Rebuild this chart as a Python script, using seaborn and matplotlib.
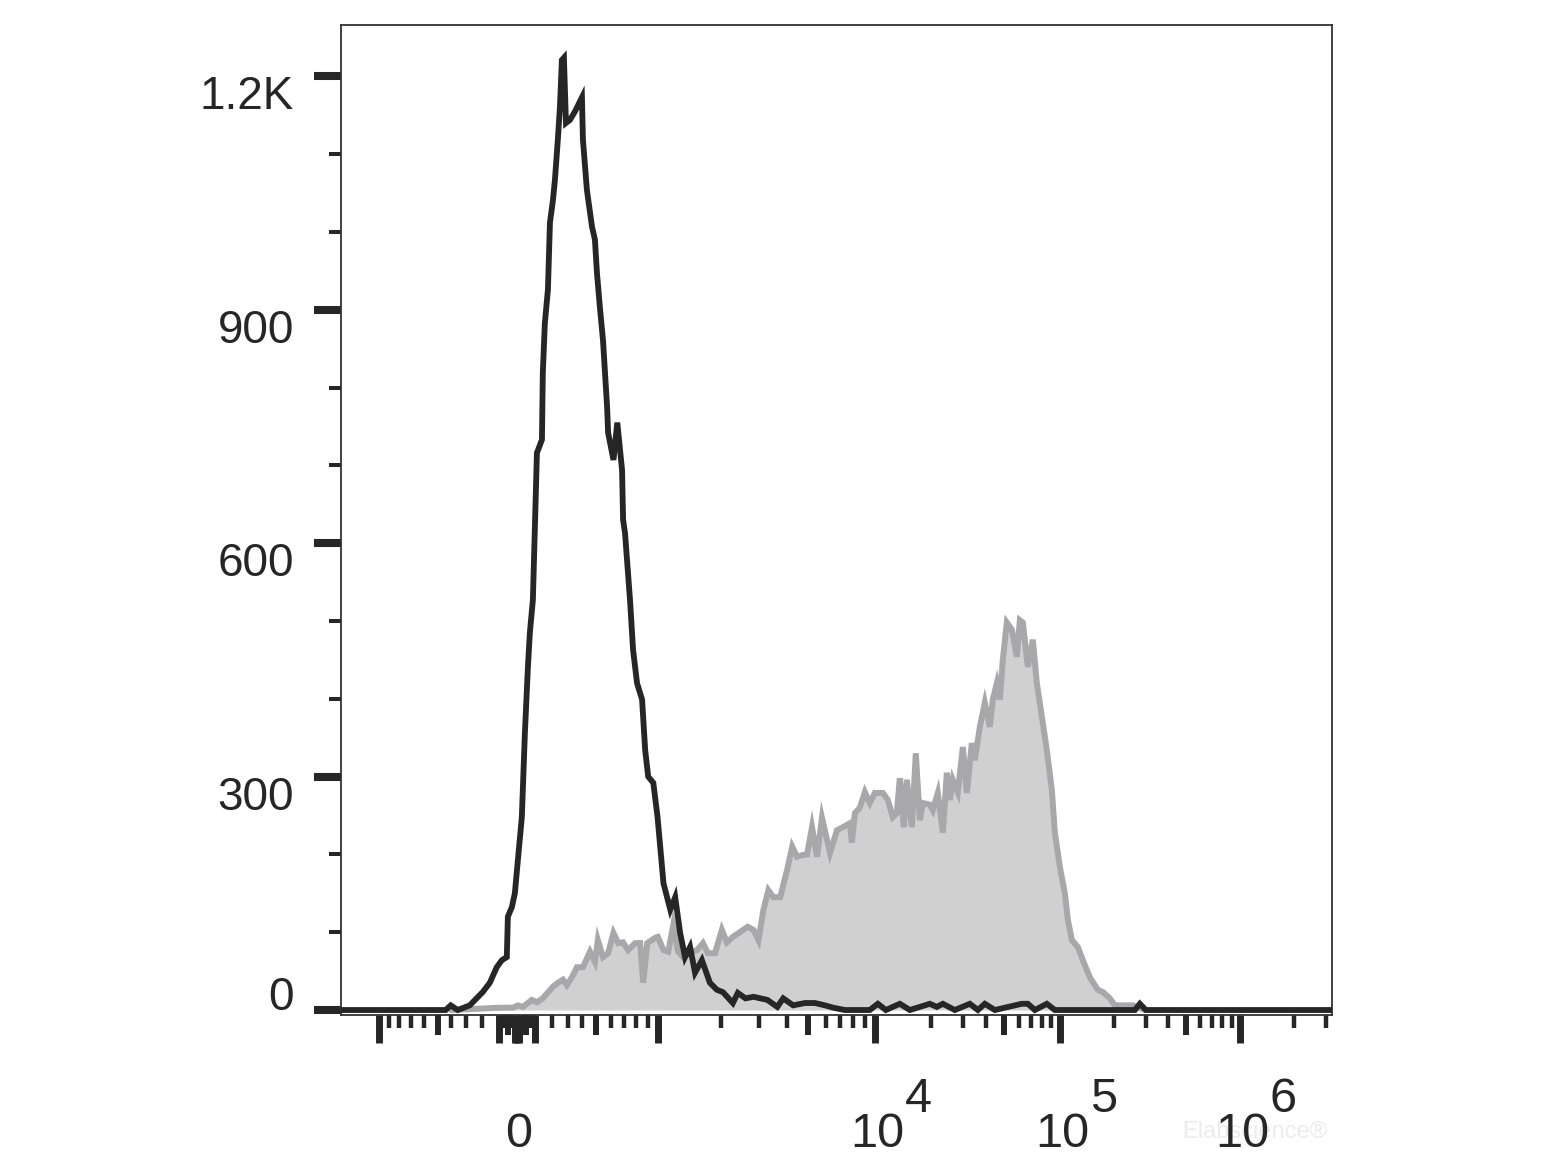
import numpy as np
import pandas as pd
import matplotlib
matplotlib.use("Agg")
import matplotlib.pyplot as plt
import seaborn as sns
from matplotlib.ticker import NullLocator

# ---------------- data (fluorescence intensity, event count) ----------------
BLACK_X = [-1480, -485, -440, -403, -354, -314, -275, -237, -195, -153,
           -113, -84, -56, -50, -28, -11, 6, 28, 45, 62,
           73, 90, 101, 113, 142, 147, 159, 177, 189, 207,
           219, 237, 250, 262, 275, 288, 314, 348, 396, 403,
           432, 470, 493, 507, 526, 547, 575, 582, 620, 648,
           684, 692, 707, 747, 772, 806, 850, 878, 906, 955,
           997, 1031, 1067, 1153, 1218, 1287, 1359, 1436, 1516, 1634,
           1781, 1919, 2046, 2275, 2398, 2600, 2830, 3040, 3270, 3630,
           3860, 4280, 4850, 5370, 5960, 6480, 7330, 9490, 10380, 11470,
           13650, 15460, 19830, 21630, 23320, 27060, 32620, 36050, 39320, 44530,
           62300, 67140, 73270, 85050, 93970, 261100, 278300, 300400, 3300000]
BLACK_COUNT = [0, 0, 0, 6, 0, 3, 6, 14, 23, 35,
               55, 64, 68, 120, 132, 150, 193, 248, 356, 441,
               485, 527, 617, 716, 733, 819, 883, 926, 1012, 1041,
               1067, 1119, 1161, 1221, 1224, 1140, 1144, 1155, 1173, 1119,
               1054, 1007, 990, 948, 904, 861, 775, 742, 707, 755,
               694, 630, 613, 527, 463, 420, 399, 334, 300, 292,
               248, 206, 163, 129, 145, 99, 68, 81, 48, 64,
               35, 26, 23, 9, 22, 15, 17, 15, 13, 4,
               15, 6, 9, 9, 6, 3, 0, 0, 8, 0,
               8, 0, 8, 4, 8, 0, 8, 0, 8, 0,
               8, 8, 0, 8, 0, 0, 8, 0, 0]

GRAY_X = [-400, -96, -22, 6, 34, 84, 113, 147, 207, 237,
          269, 294, 327, 361, 403, 455, 493, 513, 547, 582,
          620, 655, 692, 731, 789, 833, 860, 897, 976, 1000,
          1067, 1127, 1191, 1259, 1330, 1468, 1549, 1653, 1744, 1880,
          2024, 2136, 2275, 2450, 2660, 2830, 2980, 3140, 3305, 3480,
          3740, 4020, 4240, 4460, 4700, 4950, 5210, 5490, 5780, 6280,
          6750, 7180, 7720, 7880, 8130, 8560, 9020, 9490, 10000, 11050,
          11760, 12510, 13150, 13650, 14350, 14890, 15850, 16660, 17510, 18180,
          19830, 20580, 21900, 23320, 24500, 25430, 26400, 28100, 29910, 31430,
          33440, 34710, 36950, 39320, 41840, 43430, 45650, 47400, 49180, 51700,
          55020, 58560, 60780, 63100, 67140, 71460, 75110, 79940, 85050, 90530,
          93970, 100000, 106600, 110800, 116600, 125900, 134200, 146800, 162600, 173400,
          189600, 202100, 215400, 254500, 267800, 296700]
GRAY_COUNT = [0, 3, 3, 6, 4, 13, 10, 15, 30, 35,
              39, 32, 42, 55, 55, 75, 62, 90, 68, 73,
              99, 86, 87, 77, 86, 86, 35, 86, 93, 94,
              77, 75, 109, 75, 68, 75, 77, 86, 73, 73,
              103, 87, 94, 100, 107, 103, 90, 129, 154, 145,
              145, 180, 210, 197, 199, 200, 235, 197, 247, 202,
              231, 235, 240, 215, 253, 260, 280, 266, 279, 279,
              270, 248, 253, 298, 235, 296, 235, 330, 244, 266,
              264, 257, 279, 228, 305, 270, 296, 280, 338, 279,
              343, 321, 364, 395, 364, 399, 420, 399, 450, 498,
              489, 454, 501, 498, 441, 476, 420, 377, 334, 283,
              228, 184, 150, 116, 90, 81, 64, 42, 26, 23,
              15, 6, 6, 6, 4, 0]

Y_MAJOR = [0, 300, 600, 900, 1200]
Y_LABELS = ["0", "300", "600", "900", "1.2K"]
Y_MINOR = [100, 200, 400, 500, 700, 800, 1000, 1100]

X_LONG = [-1000, -100, -10, 0, 10, 100, 1000, 1e4, 1e5, 1e6]
X_MID = [-500, -50, 50, 500, 5000, 5e4, 5e5]
X_SMALL = ([-k * 100 for k in (2, 3, 4, 6, 7, 8, 9)]
           + [-k * 10 for k in (2, 3, 4, 6, 7, 8, 9)]
           + [k * 10 ** e for e in (1, 2, 3, 4, 5) for k in (2, 3, 4, 6, 7, 8, 9)]
           + [2e6, 3e6])
X_LABEL_VALUES = [0, 1e4, 1e5, 1e6]
X_LABEL_BASE = ["0", "10", "10", "10"]
X_LABEL_EXP = ["", "4", "5", "6"]

X_LIMITS = (-1480, 3.25e6)
Y_LIMITS = (-6.4, 1266)

# ---------------- biexponential-like display scale ----------------
SCALE_X = [-1e5, -2000, -1000, -500, 0, 500, 1000, 1e4, 1e5, 1e6, 1e8]
SCALE_D = [-400, -30, 38, 97, 176, 255, 317, 534, 719, 899, 1259]
C = 500.0
LN10 = np.log(10)
SCALE_U = np.arcsinh(np.array(SCALE_X) / C) / LN10


def fwd(x):
    x = np.asarray(x, dtype=float)
    return np.interp(np.arcsinh(x / C) / LN10, SCALE_U, SCALE_D)


def inv(d):
    d = np.asarray(d, dtype=float)
    return C * np.sinh(np.interp(d, SCALE_D, SCALE_U) * LN10)


# ---------------- figure ----------------
sns.set_style("white")
plt.rcParams["font.family"] = ["Liberation Sans", "DejaVu Sans"]

INK = "#262626"
fig = plt.figure(figsize=(15.6, 11.7), dpi=100)
ax = fig.add_axes([341 / 1560, 1 - 1015 / 1170, 991 / 1560, 990 / 1170])
ax.set_xscale("function", functions=(fwd, inv))

df_gray = pd.DataFrame({"intensity": GRAY_X, "count": GRAY_COUNT})
df_black = pd.DataFrame({"intensity": BLACK_X, "count": BLACK_COUNT})

ax.fill_between(df_gray["intensity"], df_gray["count"], 0,
                color="#d0d0d0", linewidth=0, zorder=1)
sns.lineplot(data=df_gray, x="intensity", y="count", ax=ax, color="#a8a8aa",
             linewidth=4.3, estimator=None, sort=False, zorder=2)
sns.lineplot(data=df_black, x="intensity", y="count", ax=ax, color=INK,
             linewidth=4.2, estimator=None, sort=False, zorder=3)
for ln in ax.lines:
    ln.set_solid_joinstyle("miter")

ax.set_xlim(*X_LIMITS)
ax.set_ylim(*Y_LIMITS)
ax.set_xlabel("")
ax.set_ylabel("")

for s in ax.spines.values():
    s.set_visible(True)
    s.set_color("#333333")
    s.set_linewidth(1.3)

# y ticks
ax.set_yticks(Y_MAJOR)
ax.set_yticks(Y_MINOR, minor=True)
ax.tick_params(axis="y", which="major", direction="out", length=19.4, width=5.8,
               color=INK, left=True, labelleft=False)
ax.tick_params(axis="y", which="minor", direction="out", length=8.6, width=2.9,
               color=INK, left=True)

# x ticks (long and small on main axis)
ax.set_xticks(X_LONG)
ax.set_xticks(X_SMALL, minor=True)
ax.tick_params(axis="x", which="major", direction="out", length=20, width=5.0,
               color=INK, bottom=True, labelbottom=False)
ax.tick_params(axis="x", which="minor", direction="out", length=9.4, width=3.2,
               color=INK, bottom=True)

# medium ticks on a twin axis sharing the same scale
ax2 = ax.twiny()
ax2.set_xscale("function", functions=(fwd, inv))
ax2.set_xlim(*X_LIMITS)
ax2.xaxis.set_ticks_position("bottom")
ax2.set_xticks(X_MID)
ax2.xaxis.set_minor_locator(NullLocator())
ax2.tick_params(axis="x", which="major", direction="out", length=14.4, width=4.3,
                color=INK, bottom=True, top=False, labelbottom=False, labeltop=False)
for s in ax2.spines.values():
    s.set_visible(False)

# y labels
for val, lab in zip(Y_MAJOR, Y_LABELS):
    dy = 0 if val == 0 else -33
    ax.annotate(lab, xy=(0, val), xycoords=("axes fraction", "data"),
                xytext=(-47, dy), textcoords="offset pixels",
                ha="right", va="baseline", fontsize=33, color=INK,
                annotation_clip=False)

# x labels
for val, base, exp in zip(X_LABEL_VALUES, X_LABEL_BASE, X_LABEL_EXP):
    t = ax.annotate(base, xy=(val, 0), xycoords=("data", "axes fraction"),
                    xytext=(2, -132), textcoords="offset pixels",
                    ha="center", va="baseline", fontsize=35, color=INK,
                    annotation_clip=False)
    if exp:
        ax.annotate(exp, xy=(1, 0), xycoords=(t, "axes fraction"),
                    xytext=(1, -97), textcoords="offset pixels",
                    ha="left", va="baseline", fontsize=35, color=INK,
                    annotation_clip=False)

# faint watermark
ax.text(1182 / 1560, 1 - 1138 / 1170, "Elabscience\u00ae", transform=fig.transFigure,
        fontsize=17, color="#ececec", ha="left", va="baseline", zorder=0.5,
        clip_on=False)

fig.savefig("out.png", dpi=100)
